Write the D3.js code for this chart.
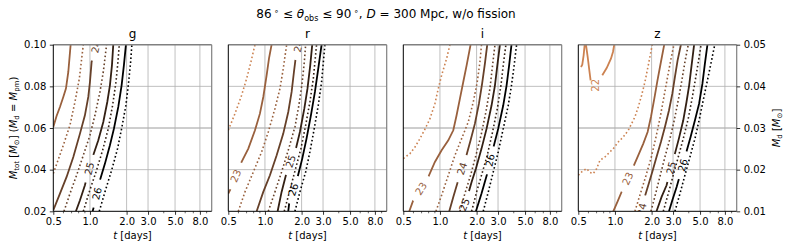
<!DOCTYPE html>
<html><head><meta charset="utf-8">
<script src="https://cdn.jsdelivr.net/npm/d3@7"></script>
<style>body{margin:0;background:#fff} text{font-family:"DejaVu Sans",sans-serif}</style>
</head><body><svg id="c" width="788" height="251"></svg>
<script>
const bands = ["g","r","i","z"];
const levels = [22,23,24,25,26];
const levelColors = ["#cc8251","#99603d","#664029","#332014","#000000"];
const xTicks = [0.5,1,2,3,5,8];
const xMinor = [0.6,0.7,0.8,0.9,4,6,7,9];
const yTicksLeft = [0.02,0.04,0.06,0.08,0.10];
const yTicksRight = [0.01,0.02,0.03,0.04,0.05];
const xDomain = [0.5,10];
const yDomain = [0.02,0.10];
const yDomainRight = [0.01,0.05];

// contour curves: level, dotted?, segments of [t (days), M_tot]
const curvesG = [
 {lv:23,dot:false,segs:[[[0.5,0.0605],[0.532,0.0658],[0.567,0.0701],[0.604,0.0749],[0.635,0.0789],[0.664,0.0869],[0.694,0.10]]]},
 {lv:23,dot:true,segs:[[[0.5,0.0381],[0.604,0.0517],[0.685,0.0613],[0.753,0.0725],[0.818,0.0837],[0.882,0.10]]]},
 {lv:24,dot:false,segs:[[[0.5,0.0205],[0.567,0.0285],[0.643,0.0365],[0.730,0.0461],[0.828,0.0573],[0.909,0.0661],[0.969,0.0749],[1.0,0.0821],[1.032,0.0917],[1.093,0.0973],[1.121,0.10]]]},
 {lv:24,dot:true,segs:[[[0.612,0.02],[0.685,0.0285],[0.777,0.0373],[0.882,0.0469],[1.0,0.0565],[1.099,0.0661],[1.208,0.0773],[1.287,0.0869],[1.370,0.10]]]},
 {lv:25,dot:false,segs:[[[0.767,0.02],[0.828,0.0253],[0.909,0.0325],[0.987,0.0405],[1.052,0.0461],[1.171,0.0541],[1.287,0.0629],[1.388,0.0725],[1.459,0.0805],[1.516,0.0901],[1.554,0.10]]]},
 {lv:25,dot:true,segs:[[[0.882,0.02],[0.987,0.0293],[1.121,0.0389],[1.271,0.0493],[1.414,0.0597],[1.535,0.0709],[1.636,0.0821],[1.698,0.0917],[1.741,0.10]]]},
 {lv:26,dot:false,segs:[[[1.052,0.02],[1.085,0.0229],[1.141,0.0285],[1.208,0.0349],[1.328,0.0429],[1.459,0.0517],[1.574,0.0597],[1.709,0.0701],[1.82,0.0805],[1.90,0.0901],[1.975,0.10]]]},
 {lv:26,dot:true,segs:[[[1.193,0.02],[1.328,0.0293],[1.507,0.0397],[1.686,0.0501],[1.82,0.0597],[1.975,0.0709],[2.078,0.0821],[2.159,0.0917],[2.21,0.10]]]}
];
const labelsG = [{lv:24,t:1.121,M:0.0990},{lv:25,t:0.987,M:0.0405},{lv:26,t:1.141,M:0.0285}];

const curvesR = [
 {lv:22,dot:true,segs:[[[0.5,0.0589],[0.567,0.0669],[0.643,0.0757],[0.707,0.0837],[0.767,0.0917],[0.828,0.10]]]},
 {lv:23,dot:false,segs:[[[0.5,0.0285],[0.532,0.0317],[0.574,0.0370],[0.643,0.0437],[0.730,0.0501],[0.828,0.0589],[0.909,0.0669],[0.969,0.0749],[1.032,0.0853],[1.079,0.0933],[1.134,0.10]]]},
 {lv:23,dot:true,segs:[[[0.604,0.02],[0.685,0.0293],[0.803,0.0389],[0.939,0.0485],[1.065,0.0581],[1.208,0.0693],[1.328,0.0789],[1.414,0.0885],[1.507,0.10]]]},
 {lv:24,dot:false,segs:[[[0.855,0.02],[0.969,0.0293],[1.099,0.0373],[1.248,0.0469],[1.414,0.0573],[1.554,0.0677],[1.656,0.0773],[1.73,0.0869],[1.785,0.0933],[1.83,0.0965],[1.89,0.10]]]},
 {lv:24,dot:true,segs:[[[1.065,0.02],[1.208,0.0293],[1.370,0.0389],[1.554,0.0493],[1.763,0.0605],[1.90,0.0709],[2.025,0.0821],[2.105,0.0917],[2.159,0.10]]]},
 {lv:25,dot:false,segs:[[[1.271,0.02],[1.370,0.0293],[1.486,0.0373],[1.624,0.044],[1.795,0.0501],[1.937,0.0581],[2.105,0.0693],[2.235,0.0789],[2.355,0.0901],[2.446,0.10]]]},
 {lv:25,dot:true,segs:[[[1.441,0.02],[1.615,0.0309],[1.785,0.0405],[1.975,0.0501],[2.159,0.0613],[2.34,0.0725],[2.495,0.0837],[2.655,0.10]]]},
 {lv:26,dot:false,segs:[[[1.554,0.02],[1.584,0.0242],[1.709,0.0304],[1.855,0.0365],[2.025,0.0453],[2.195,0.0549],[2.385,0.0661],[2.573,0.0773],[2.741,0.0885],[2.919,0.10]]]},
 {lv:26,dot:true,segs:[[[1.763,0.02],[1.937,0.0293],[2.159,0.0389],[2.34,0.0485],[2.54,0.0597],[2.741,0.0709],[2.919,0.0821],[3.109,0.10]]]}
];
const labelsR = [{lv:23,t:0.574,M:0.0370},{lv:24,t:1.88,M:0.0994},{lv:25,t:1.624,M:0.044},{lv:26,t:1.709,M:0.0304}];

const curvesI = [
 {lv:22,dot:true,segs:[[[0.5,0.0453],[0.567,0.0477],[0.624,0.0509],[0.685,0.0549],[0.753,0.0594],[0.828,0.0645],[0.909,0.0717],[0.969,0.0789],[1.032,0.0853],[1.134,0.0933],[1.208,0.10]]]},
 {lv:23,dot:false,segs:[[[0.560,0.02],[0.604,0.0253],[0.698,0.0309],[0.803,0.0365],[0.909,0.0437],[1.032,0.0493],[1.171,0.0541],[1.287,0.0589],[1.370,0.0661],[1.459,0.0741],[1.554,0.0821],[1.656,0.0901],[1.785,0.10]]]},
 {lv:23,dot:true,segs:[[[0.927,0.02],[1.032,0.0277],[1.171,0.0373],[1.328,0.0469],[1.507,0.0549],[1.709,0.0629],[1.878,0.0725],[2.025,0.0821],[2.130,0.0917],[2.195,0.10]]]},
 {lv:24,dot:false,segs:[[[1.193,0.02],[1.287,0.0269],[1.388,0.0333],[1.516,0.0405],[1.636,0.0461],[1.785,0.0541],[1.937,0.0621],[2.09,0.0717],[2.22,0.0813],[2.34,0.0909],[2.446,0.10]]]},
 {lv:24,dot:true,segs:[[[1.459,0.02],[1.602,0.0285],[1.785,0.0373],[1.975,0.0469],[2.176,0.0565],[2.385,0.0677],[2.573,0.0789],[2.705,0.0901],[2.83,0.10]]]},
 {lv:25,dot:false,segs:[[[1.507,0.02],[1.584,0.0232],[1.709,0.0285],[1.82,0.0341],[1.975,0.0405],[2.195,0.0501],[2.416,0.0597],[2.655,0.0709],[2.83,0.0805],[2.96,0.0901],[3.109,0.10]]]},
 {lv:25,dot:true,segs:[[[1.82,0.02],[2.0,0.0293],[2.195,0.0373],[2.446,0.0469],[2.705,0.0581],[2.96,0.0693],[3.17,0.0805],[3.31,0.0901],[3.48,0.10]]]},
 {lv:26,dot:false,segs:[[[1.975,0.02],[2.195,0.0285],[2.446,0.0381],[2.573,0.0445],[2.741,0.0504],[3.01,0.0597],[3.311,0.0709],[3.527,0.0805],[3.70,0.0901],[3.87,0.10]]]},
 {lv:26,dot:true,segs:[[[2.268,0.02],[2.495,0.0293],[2.741,0.0389],[3.01,0.0485],[3.311,0.0597],[3.64,0.0709],[3.87,0.0805],[4.07,0.0901],[4.26,0.10]]]}
];
const labelsI = [{lv:23,t:0.698,M:0.0309},{lv:24,t:1.516,M:0.0405},{lv:25,t:1.584,M:0.0232},{lv:26,t:2.573,M:0.0445}];

const curvesZ = [
 {lv:22,dot:true,segs:[[[0.5,0.0373],[0.539,0.0392],[0.585,0.0405],[0.624,0.0386],[0.664,0.0381],[0.707,0.0405],[0.753,0.0445],[0.828,0.0461],[0.909,0.0485],[0.969,0.0501],[1.065,0.0533],[1.171,0.0557],[1.287,0.0589],[1.370,0.0621],[1.459,0.0653],[1.554,0.0701],[1.656,0.0757],[1.763,0.0821],[1.878,0.0901],[2.025,0.10]]]},
 {lv:22,dot:false,segs:[[[0.526,0.0893],[0.539,0.0904],[0.553,0.0949],[0.564,0.10]],[[0.578,0.10],[0.597,0.0941],[0.616,0.0877],[0.631,0.0829]],[[0.787,0.0853],[0.855,0.0888],[0.927,0.0933],[0.963,0.0965],[0.987,0.10]]]},
 {lv:23,dot:false,segs:[[[0.969,0.02],[1.052,0.0248],[1.149,0.0301],[1.271,0.0357],[1.414,0.0413],[1.554,0.0469],[1.709,0.0525],[1.855,0.0581],[1.975,0.0653],[2.105,0.0741],[2.235,0.0829],[2.385,0.0917],[2.54,0.10]]]},
 {lv:23,dot:true,segs:[[[1.459,0.02],[1.602,0.0277],[1.785,0.0365],[1.975,0.0453],[2.159,0.0549],[2.34,0.0645],[2.51,0.0741],[2.69,0.0837],[2.87,0.0925],[3.05,0.10]]]},
 {lv:24,dot:false,segs:[[[1.645,0.02],[1.741,0.0261],[1.878,0.0325],[2.025,0.0389],[2.195,0.0461],[2.385,0.0533],[2.573,0.0605],[2.78,0.0685],[2.96,0.0765],[3.109,0.0845],[3.27,0.0925],[3.48,0.10]]]},
 {lv:24,dot:true,segs:[[[1.975,0.02],[2.159,0.0285],[2.355,0.0373],[2.573,0.0461],[2.83,0.0549],[3.07,0.0637],[3.311,0.0733],[3.527,0.0821],[3.756,0.0917],[4.0,0.10]]]},
 {lv:25,dot:false,segs:[[[2.195,0.02],[2.416,0.0269],[2.655,0.0325],[2.886,0.0408],[3.109,0.0477],[3.35,0.0549],[3.64,0.0637],[3.87,0.0725],[4.07,0.0805],[4.26,0.0901],[4.47,0.10]]]},
 {lv:25,dot:true,segs:[[[2.495,0.02],[2.741,0.0285],[3.01,0.0373],[3.311,0.0461],[3.64,0.0549],[4.0,0.0645],[4.30,0.0741],[4.59,0.0837],[4.84,0.0917],[5.10,0.10]]]},
 {lv:26,dot:false,segs:[[[2.78,0.02],[2.96,0.0253],[3.21,0.0317],[3.42,0.0373],[3.60,0.0421],[3.83,0.0477],[4.18,0.0557],[4.54,0.0637],[4.91,0.0717],[5.23,0.0813],[5.48,0.0909],[5.75,0.10]]]},
 {lv:26,dot:true,segs:[[[3.109,0.02],[3.42,0.0285],[3.756,0.0373],[4.13,0.0461],[4.54,0.0549],[4.91,0.0637],[5.31,0.0733],[5.75,0.0829],[6.22,0.0925],[6.6,0.10]]]}
];
const labelsZ = [{lv:22,t:0.685,M:0.0805,rot:-90,gap:false},{lv:23,t:1.271,M:0.0357},{lv:24,t:1.66,M:0.0209},{lv:25,t:2.886,M:0.0408},{lv:26,t:3.60,M:0.0421}];

const panelCurves = [curvesG,curvesR,curvesI,curvesZ];
const panelLabels = [labelsG,labelsR,labelsI,labelsZ];

// ---- layout ----
const svg = d3.select("#c");
const left0 = 53.3, step = 175, pw = 158.4, topY = 44.7, ph = 166.6;
const x = d3.scaleLog().domain(xDomain).range([0,pw]);
const y = d3.scaleLinear().domain(yDomain).range([ph,0]);
const yR = d3.scaleLinear().domain(yDomainRight).range([ph,0]);
const color = d3.scaleOrdinal().domain(levels).range(levelColors);
const line = d3.line().x(d=>x(d[0])).y(d=>y(d[1]));
const defs = svg.append("defs");
const FS = 10;

function styleAxis(sel){
  sel.select(".domain").remove();
  sel.selectAll(".tick line").attr("stroke","#000").attr("stroke-width",0.8);
  sel.selectAll(".tick text").attr("font-size",FS).attr("fill","#000").attr("font-family","DejaVu Sans");
}

bands.forEach((b,i)=>{
  const g = svg.append("g").attr("transform",`translate(${left0+i*step},${topY})`);
  g.append("line").attr("x1",0).attr("x2",pw).attr("y1",y(0.06)).attr("y2",y(0.06)).attr("stroke","#e2e2e2").attr("stroke-width",1.8);
  g.append("g").selectAll("line").data(xTicks.slice(1)).join("line")
    .attr("x1",d=>x(d)).attr("x2",d=>x(d)).attr("y1",0).attr("y2",ph)
    .attr("stroke","#b0b0b0").attr("stroke-width",0.8);
  g.append("g").selectAll("line").data(yTicksLeft.slice(1,-1)).join("line")
    .attr("x1",0).attr("x2",pw).attr("y1",d=>y(d)).attr("y2",d=>y(d))
    .attr("stroke","#b0b0b0").attr("stroke-width",0.8);

  defs.append("clipPath").attr("id","clip"+i).append("rect").attr("width",pw).attr("height",ph);
  const plot = g.append("g").attr("clip-path",`url(#clip${i})`);
  const lg = plot.append("g");
  const tg = plot.append("g");

  panelCurves[i].forEach((c,ci)=>{
    const p = lg.append("path").attr("d",c.segs.map(s=>line(s)).join(""))
      .attr("fill","none").attr("stroke",color(c.lv)).attr("stroke-width",c.dot?1.6:1.8);
    if(c.dot){ p.attr("stroke-dasharray","1.6,2.4"); return; }
    const labs = panelLabels[i].filter(l=>l.lv===c.lv);
    if(!labs.length) return;
    const mid = `mask_${i}_${ci}`;
    const mask = defs.append("mask").attr("id",mid).attr("maskUnits","userSpaceOnUse")
      .attr("x",-20).attr("y",-20).attr("width",pw+40).attr("height",ph+40);
    mask.append("rect").attr("x",-20).attr("y",-20).attr("width",pw+40).attr("height",ph+40).attr("fill","#fff");
    labs.forEach(l=>{
      const px = x(l.t), py = y(l.M);
      let ang = l.rot;
      if(ang===undefined){
        let best=Infinity;
        c.segs.forEach(s=>{for(let k=0;k<s.length-1;k++){
          const ax=x(s[k][0]),ay=y(s[k][1]),bx=x(s[k+1][0]),by=y(s[k+1][1]);
          const dx=bx-ax,dy=by-ay,L2=dx*dx+dy*dy;
          let u=L2?((px-ax)*dx+(py-ay)*dy)/L2:0; u=Math.max(0,Math.min(1,u));
          const d=Math.hypot(ax+u*dx-px,ay+u*dy-py);
          if(d<best){best=d;ang=Math.atan2(dy,dx)*180/Math.PI;}
        }});
        if(ang>90) ang-=180; if(ang<-90) ang+=180;
      }
      const t = tg.append("text").attr("transform",`translate(${px},${py}) rotate(${ang})`)
        .attr("text-anchor","middle").attr("dy","0.36em").attr("font-size",FS)
        .attr("fill",color(l.lv)).text(l.lv);
      const tw = t.node().getComputedTextLength();
      if(l.gap!==false){
        const half = tw/2+8;
        mask.append("rect").attr("transform",`translate(${px},${py}) rotate(${ang})`)
          .attr("x",-half).attr("y",-5).attr("width",2*half).attr("height",10).attr("fill","#000");
      }
    });
    p.attr("mask",`url(#${mid})`);
  });

  g.append("line").attr("x1",0).attr("x2",pw).attr("y1",0).attr("y2",0).attr("stroke","#808080").attr("stroke-width",1.6);
  g.append("line").attr("x1",pw).attr("x2",pw).attr("y1",0).attr("y2",ph).attr("stroke","#808080").attr("stroke-width",1.2);
  g.append("line").attr("x1",0).attr("x2",0).attr("y1",0).attr("y2",ph).attr("stroke","#000").attr("stroke-width",1);
  g.append("line").attr("x1",0).attr("x2",pw).attr("y1",ph).attr("y2",ph).attr("stroke","#000").attr("stroke-width",1);

  g.append("g").attr("transform",`translate(0,${ph})`)
    .call(d3.axisBottom(x).tickValues(xMinor).tickFormat("").tickSize(2).tickSizeOuter(0)).call(styleAxis)
    .selectAll(".tick line").attr("stroke-width",0.6);
  g.append("g").attr("transform",`translate(0,${ph})`)
    .call(d3.axisBottom(x).tickValues(xTicks).tickFormat(d3.format(".1f")).tickSize(3.5).tickPadding(3.5).tickSizeOuter(0)).call(styleAxis);
  if(i===0){
    g.append("g").call(d3.axisLeft(y).tickValues(yTicksLeft).tickFormat(d3.format(".2f")).tickSize(3.5).tickPadding(3.5).tickSizeOuter(0)).call(styleAxis);
  }
  if(i===3){
    g.append("g").attr("transform",`translate(${pw},0)`)
      .call(d3.axisRight(yR).tickValues(yTicksRight).tickFormat(d3.format(".2f")).tickSize(3.5).tickPadding(3.5).tickSizeOuter(0)).call(styleAxis);
  }
  g.append("text").attr("x",pw/2).attr("y",-6.5).attr("text-anchor","middle").attr("font-size",12).text(b);
  const xl = g.append("text").attr("x",pw/2).attr("y",ph+27.3).attr("text-anchor","middle").attr("font-size",FS);
  xl.append("tspan").attr("font-style","italic").text("t");
  xl.append("tspan").text(" [days]");
});

const tt = svg.append("text").attr("x",386).attr("y",18).attr("text-anchor","middle").attr("font-size",12);
tt.append("tspan").text("86");
tt.append("tspan").attr("font-size",8).attr("dy",-4.5).text(" ∘");
tt.append("tspan").attr("dy",4.5).text(" ≤ ");
tt.append("tspan").attr("font-style","italic").text("θ");
tt.append("tspan").attr("font-size",8).attr("dy",2.5).text("obs");
tt.append("tspan").attr("dy",-2.5).text(" ≤ 90");
tt.append("tspan").attr("font-size",8).attr("dy",-4.5).text(" ∘");
tt.append("tspan").attr("dy",4.5).text(", ");
tt.append("tspan").attr("font-style","italic").text("D");
tt.append("tspan").text(" = 300 Mpc, w/o fission");

function sub(sel,txt){ sel.append("tspan").attr("font-size",7).attr("dy",2).text(txt); }
const yl = svg.append("text").attr("transform",`translate(17,${topY+ph/2}) rotate(-90)`).attr("text-anchor","middle").attr("font-size",FS);
yl.append("tspan").attr("font-style","italic").text("M");
sub(yl,"tot");
yl.append("tspan").attr("dy",-2).text(" [");
yl.append("tspan").attr("font-style","italic").text("M");
sub(yl,"⊙");
yl.append("tspan").attr("dy",-2).text("] (");
yl.append("tspan").attr("font-style","italic").text("M");
sub(yl,"d");
yl.append("tspan").attr("dy",-2).text(" = ");
yl.append("tspan").attr("font-style","italic").text("M");
sub(yl,"pm");
yl.append("tspan").attr("dy",-2).text(")");

const yr = svg.append("text").attr("transform",`translate(780,${topY+ph/2}) rotate(-90)`).attr("text-anchor","middle").attr("font-size",FS);
yr.append("tspan").attr("font-style","italic").text("M");
sub(yr,"d");
yr.append("tspan").attr("dy",-2).text(" [");
yr.append("tspan").attr("font-style","italic").text("M");
sub(yr,"⊙");
yr.append("tspan").attr("dy",-2).text("]");
</script></body></html>
